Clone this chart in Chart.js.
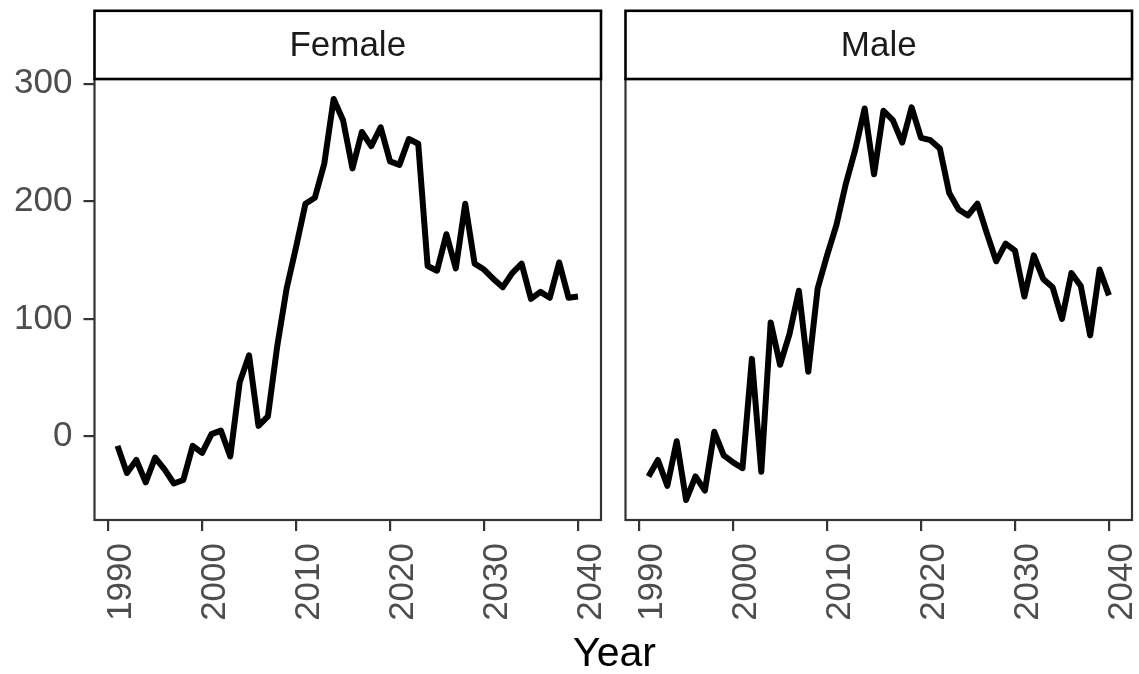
<!DOCTYPE html>
<html>
<head>
<meta charset="utf-8">
<title>Year by sex</title>
<script src="https://cdn.jsdelivr.net/npm/chart.js@4.4.1/dist/chart.umd.min.js"></script>
<style>
  html, body { margin: 0; padding: 0; background: #ffffff; }
  #wrap { position: relative; width: 1139px; height: 674px; overflow: hidden; }
  canvas { position: absolute; top: 0; }
  #left { left: 0; }
  #right { left: 612px; }
  #xtitle {
    position: absolute; left: 0; width: 1229px; top: 627px;
    text-align: center; font-family: "Liberation Sans", Arial, sans-serif;
    font-size: 41px; color: #000000; line-height: 50px;
  }
</style>
</head>
<body>
<div id="wrap">
  <canvas id="left" width="612" height="674"></canvas>
  <canvas id="right" width="527" height="674"></canvas>
  <div id="xtitle">Year</div>
</div>
<script>
// Years shown in both panels
const years = [1991, 1992, 1993, 1994, 1995, 1996, 1997, 1998, 1999, 2000,
               2001, 2002, 2003, 2004, 2005, 2006, 2007, 2008, 2009, 2010,
               2011, 2012, 2013, 2014, 2015, 2016, 2017, 2018, 2019, 2020,
               2021, 2022, 2023, 2024, 2025, 2026, 2027, 2028, 2029, 2030,
               2031, 2032, 2033, 2034, 2035, 2036, 2037, 2038, 2039, 2040];

const femaleValues = [-8, -31, -20, -39, -18, -28, -40, -37, -8, -14,
                      2, 5, -17, 46, 69, 9, 17, 77, 126, 161,
                      198, 203, 232, 287, 269, 228, 259, 247, 263, 234,
                      231, 253, 249, 145, 141, 172, 143, 198, 147, 142,
                      134, 127, 139, 147, 117, 123, 118, 148, 118, 119];

const maleValues = [-34, -20, -42, -4, -54, -34, -46, 4, -16, -22,
                    -27, 66, -30, 97, 61, 87, 124, 55, 126, 154,
                    180, 215, 244, 279, 223, 277, 269, 250, 280, 254,
                    252, 245, 207, 193, 188, 198, 173, 149, 164, 158,
                    119, 154, 134, 127, 100, 139, 128, 86, 142, 120];

const panelLabels = ["Female", "Male"];
const xTickValues = [1990, 2000, 2010, 2020, 2030, 2040];
const yTickValues = [0, 100, 200, 300];

// Shared scale limits, padded by 5% of the data range on each side
function expandRange(values, frac) {
  const lo = Math.min(...values), hi = Math.max(...values);
  const pad = (hi - lo) * frac;
  return [lo - pad, hi + pad];
}
const [xMin, xMax] = expandRange(years, 0.05);
const [yMin, yMax] = expandRange(femaleValues.concat(maleValues), 0.05);

const FONT = "'Liberation Sans', Arial, Helvetica, sans-serif";
const TICK_COLOR = "#4D4D4D";
const AXIS_COLOR = "#333333";

// Draws the panel frame and the facet strip above it
const facetPlugin = {
  id: "facet",
  afterDatasetsDraw(chart, args, opts) {
    const a = chart.chartArea;
    const ctx = chart.ctx;
    ctx.save();
    ctx.strokeStyle = AXIS_COLOR;
    ctx.lineWidth = 2.2;
    ctx.strokeRect(a.left, a.top, a.right - a.left, a.bottom - a.top);
    // strip
    const top = 10.8;
    ctx.fillStyle = "#ffffff";
    ctx.fillRect(a.left, top, a.right - a.left, a.top - top);
    ctx.strokeStyle = "#000000";
    ctx.lineWidth = 2.6;
    ctx.strokeRect(a.left, top, a.right - a.left, a.top - top);
    ctx.fillStyle = "#1A1A1A";
    ctx.font = "35px " + FONT;
    ctx.textAlign = "center";
    ctx.textBaseline = "middle";
    ctx.fillText(opts.label, (a.left + a.right) / 2, (top + a.top) / 2 + 1);
    ctx.restore();
  }
};

function makePanel(canvasId, values, label, showY, padLeft, padRight) {
  const points = years.map((yr, i) => ({ x: yr, y: values[i] }));
  return new Chart(document.getElementById(canvasId), {
    type: "line",
    data: {
      datasets: [{
        data: points,
        borderColor: "#000000",
        borderWidth: 6,
        pointRadius: 0,
        tension: 0,
        borderJoinStyle: "round",
        fill: false
      }]
    },
    options: {
      responsive: false,
      animation: false,
      devicePixelRatio: 1,
      layout: { padding: { top: 79, left: padLeft, right: padRight, bottom: 0 } },
      plugins: {
        legend: { display: false },
        tooltip: { enabled: false },
        facet: { label: label }
      },
      scales: {
        x: {
          type: "linear",
          min: xMin,
          max: xMax,
          afterBuildTicks: (s) => { s.ticks = xTickValues.map(v => ({ value: v })); },
          afterFit: (s) => {
            s.height = 154;
            s.paddingLeft = 0; s.paddingRight = 0;
            s.paddingTop = 0; s.paddingBottom = 0;
          },
          border: { display: false },
          grid: {
            drawOnChartArea: false, drawTicks: true, tickLength: 11,
            color: AXIS_COLOR, lineWidth: 2.2
          },
          ticks: {
            minRotation: 90, maxRotation: 90, autoSkip: false,
            padding: 12, labelOffset: 13, color: TICK_COLOR,
            font: { family: FONT, size: 35 },
            callback: (v) => String(v)
          }
        },
        y: {
          type: "linear",
          display: showY,
          min: yMin,
          max: yMax,
          afterBuildTicks: (s) => { s.ticks = yTickValues.map(v => ({ value: v })); },
          afterFit: (s) => {
            s.width = showY ? 94.5 : 0;
            s.paddingLeft = 0; s.paddingRight = 0;
            s.paddingTop = 0; s.paddingBottom = 0;
          },
          border: { display: false },
          grid: {
            drawOnChartArea: false, drawTicks: true, tickLength: 11,
            color: AXIS_COLOR, lineWidth: 2.2
          },
          ticks: {
            padding: 11, color: TICK_COLOR,
            font: { family: FONT, size: 35 },
            callback: (v) => String(v)
          }
        }
      }
    },
    plugins: [facetPlugin]
  });
}

makePanel("left", femaleValues, panelLabels[0], true, 0, 11);
makePanel("right", maleValues, panelLabels[1], false, 13.5, 7);
</script>
</body>
</html>
